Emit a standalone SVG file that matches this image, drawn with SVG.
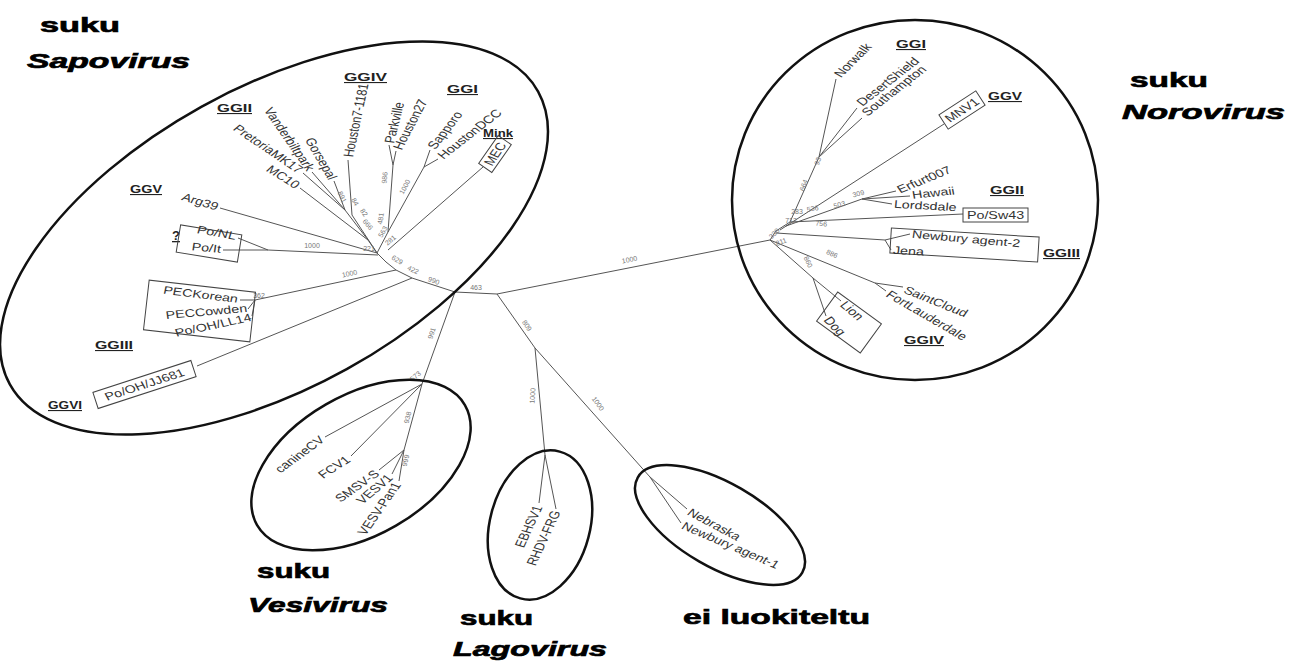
<svg xmlns="http://www.w3.org/2000/svg" width="1296" height="661" viewBox="0 0 1296 661">
<style>
.e{fill:none;stroke:#111;stroke-width:2.5}
.br path{fill:none;stroke:#555;stroke-width:1}
.bx{fill:none;stroke:#444;stroke-width:1}
.lf{font-family:"Liberation Sans",Arial,sans-serif;font-size:11px;fill:#333}
.n{font-family:"Liberation Sans",Arial,sans-serif;font-size:7px;fill:#777;text-anchor:middle}
.gg{font-family:"Liberation Sans",Arial,sans-serif;font-size:11px;font-weight:bold;fill:#222;text-decoration:underline}
.ti{font-family:"Liberation Sans",Arial,sans-serif;font-size:21px;font-weight:bold;fill:#000;stroke:#000;stroke-width:0.7}
.it{font-style:italic}
.e2{text-anchor:end}
.m{text-anchor:middle}
</style>
<rect width="1296" height="661" fill="#fff"/>

<g id="connectors" class="br">
<path d="M497,294 L455,292"/>
<path d="M455,292 L412,278 L396,270 L386,262 L377,253"/>
<path d="M412,278 L197,366"/>
<path d="M396,270 L255,300"/>
<path d="M255,300 L240,300 M255,300 L248,309 M255,300 L252,316"/>
<path d="M378,255 L268,250"/>
<path d="M268,250 L238,238 M268,250 L223,250"/>
<path d="M377,253 L220,208"/>
<path d="M377,253 L368,240 L300,188"/>
<path d="M368,240 L345,210"/>
<path d="M345,210 L303,173 M345,210 L312,172 M345,210 L334,181"/>
<path d="M377,253 L352,215 L348,160"/>
<path d="M377,253 L388,232 L393,165"/>
<path d="M393,165 L389,145 M393,165 L396,151"/>
<path d="M388,232 L424,167"/>
<path d="M424,167 L430,150 M424,167 L438,159"/>
<path d="M388,250 L483,167"/>
<path d="M455,292 L422,384"/>
<path d="M422,384 L325,437 M422,384 L351,456 M422,384 L404,450"/>
<path d="M404,450 L379,470 M404,450 L392,474 M404,450 L399,481"/>
<path d="M497,294 L535,348 L545,455"/>
<path d="M545,455 L539,503 M545,455 L556,509"/>
<path d="M535,348 L650,477"/>
<path d="M650,477 L687,509 M650,477 L681,523"/>
<path d="M497,294 L770,240"/>
<path d="M770,240 L776,231 L790,222"/>
<path d="M790,222 L819,157 L836,79 M819,157 L857,108 M819,157 L862,118"/>
<path d="M780,230 L944,124"/>
<path d="M786,226 L862,199 L896,191 M862,199 L910,196 M862,199 L892,204"/>
<path d="M790,222 L963,214"/>
<path d="M776,233 L885,240 L910,234 M885,240 L891,250"/>
<path d="M770,240 L813,278 L841,301 M813,278 L826,316"/>
<path d="M770,240 L875,283 L903,287 M875,283 L886,291"/>
</g>

<g id="bootstrap">
<text class="n" transform="translate(476,290)">463</text>
<text class="n" transform="translate(433,283) rotate(20)">990</text>
<text class="n" transform="translate(412,272) rotate(25)">422</text>
<text class="n" transform="translate(396,262) rotate(30)">629</text>
<text class="n" transform="translate(369,251)">221</text>
<text class="n" transform="translate(312,248)">1000</text>
<text class="n" transform="translate(350,276) rotate(-12)">1000</text>
<text class="n" transform="translate(259,298)">362</text>
<text class="n" transform="translate(340,198) rotate(65)">891</text>
<text class="n" transform="translate(353,203) rotate(60)">84</text>
<text class="n" transform="translate(362,214) rotate(55)">82</text>
<text class="n" transform="translate(366,226) rotate(50)">666</text>
<text class="n" transform="translate(387,178) rotate(-85)">986</text>
<text class="n" transform="translate(407,188) rotate(-62)">1000</text>
<text class="n" transform="translate(383,219) rotate(-80)">481</text>
<text class="n" transform="translate(385,233) rotate(-60)">563</text>
<text class="n" transform="translate(392,242) rotate(-40)">281</text>
<text class="n" transform="translate(434,334) rotate(-72)">991</text>
<text class="n" transform="translate(417,378) rotate(-40)">573</text>
<text class="n" transform="translate(410,418) rotate(-76)">938</text>
<text class="n" transform="translate(408,461) rotate(-76)">999</text>
<text class="n" transform="translate(525,327) rotate(55)">809</text>
<text class="n" transform="translate(535,396) rotate(-87)">1000</text>
<text class="n" transform="translate(596,405) rotate(55)">1000</text>
<text class="n" transform="translate(630,262) rotate(-11)">1000</text>
<text class="n" transform="translate(806,186) rotate(-70)">664</text>
<text class="n" transform="translate(820,162) rotate(-70)">93</text>
<text class="n" transform="translate(840,207) rotate(-15)">503</text>
<text class="n" transform="translate(859,196) rotate(-15)">309</text>
<text class="n" transform="translate(813,211) rotate(-10)">536</text>
<text class="n" transform="translate(797,214)">283</text>
<text class="n" transform="translate(791,223)">712</text>
<text class="n" transform="translate(821,226) rotate(5)">756</text>
<text class="n" transform="translate(776,235) rotate(-45)">338</text>
<text class="n" transform="translate(782,244) rotate(-20)">811</text>
<text class="n" transform="translate(831,256) rotate(25)">886</text>
<text class="n" transform="translate(806,263) rotate(65)">860</text>
</g>

<g id="sapovirus">
<ellipse class="e" cx="274" cy="238" rx="302" ry="150" transform="rotate(-29 274 238)"/>
<text class="ti" x="40" y="32" textLength="80" lengthAdjust="spacingAndGlyphs">suku</text>
<text class="ti it" x="27" y="68" textLength="163" lengthAdjust="spacingAndGlyphs">Sapovirus</text>
<text class="gg" x="217" y="112" textLength="35" lengthAdjust="spacingAndGlyphs">GGII</text>
<text class="gg" x="344" y="81" textLength="43" lengthAdjust="spacingAndGlyphs">GGIV</text>
<text class="gg" x="447" y="93" textLength="31" lengthAdjust="spacingAndGlyphs">GGI</text>
<text class="gg" x="483" y="137" textLength="30" lengthAdjust="spacingAndGlyphs">Mink</text>
<text class="gg" x="130" y="193" textLength="32" lengthAdjust="spacingAndGlyphs">GGV</text>
<text class="gg" x="172" y="240" style="font-size:13px">?</text>
<text class="gg" x="95" y="349" textLength="38" lengthAdjust="spacingAndGlyphs">GGIII</text>
<text class="gg" x="48" y="409" textLength="34" lengthAdjust="spacingAndGlyphs">GGVI</text>
<text class="lf e2" transform="translate(218,207) scale(1.3,1) rotate(21.7)" dy=".35em">Arg39</text>
<text class="lf e2" transform="translate(298,186) scale(1.3,1) rotate(39)" dy=".35em">MC10</text>
<text class="lf e2" transform="translate(301,171) scale(1.3,1) rotate(41.4)" dy=".35em">PretoriaMK17</text>
<text class="lf e2" transform="translate(311,170) scale(1.3,1) rotate(61.7)" dy=".35em">Vanderbiltpark</text>
<text class="lf e2" transform="translate(333,179) scale(1.3,1) rotate(66)" dy=".35em">Gorsepal</text>
<text class="lf" transform="translate(348,157) scale(1.3,1) rotate(-80.7)" dy=".35em">Houston7-1181</text>
<text class="lf" transform="translate(389,143) scale(1.3,1) rotate(-79)" dy=".35em">Parkville</text>
<text class="lf" transform="translate(397,149) scale(1.3,1) rotate(-67.8)" dy=".35em">Houston27</text>
<text class="lf" transform="translate(431,148) scale(1.3,1) rotate(-59)" dy=".35em">Sapporo</text>
<text class="lf" transform="translate(440,157) scale(1.3,1) rotate(-45.4)" dy=".35em">HoustonDCC</text>
<rect class="bx" x="-17" y="-8" width="34" height="16" transform="translate(495,154) rotate(-55)"/>
<text class="lf m" transform="translate(495,154) scale(1.3,1) rotate(-61.7)" dy=".35em">MEC</text>
<rect class="bx" x="-31" y="-13.75" width="62" height="27.5" transform="translate(209,243.5) rotate(9.3)"/>
<text class="lf e2" transform="translate(236,236) scale(1.3,1) rotate(12.9)" dy=".35em">Po/NL</text>
<text class="lf e2" transform="translate(221,249) scale(1.3,1) rotate(6.5)" dy=".35em">Po/It</text>
<rect class="bx" x="-53.5" y="-25" width="107" height="50" transform="translate(199.5,311) rotate(6.5)"/>
<text class="lf e2" transform="translate(238,299) scale(1.3,1) rotate(9.1)" dy=".35em">PECKorean</text>
<text class="lf e2" transform="translate(247,308) scale(1.3,1) rotate(-6.5)" dy=".35em">PECCowden</text>
<text class="lf e2" transform="translate(251,317) scale(1.3,1) rotate(-15.4)" dy=".35em">Po/OH/LL14</text>
<rect class="bx" x="-51.5" y="-8.5" width="103" height="17" transform="translate(144.5,384.5) rotate(-18)"/>
<text class="lf m" transform="translate(144.5,384.5) scale(1.3,1) rotate(-22.9)" dy=".35em">Po/OH/JJ681</text>
</g>

<g id="vesivirus">
<ellipse class="e" cx="361" cy="465" rx="120" ry="70" transform="rotate(-30 361 465)"/>
<text class="ti" x="257" y="578" textLength="73" lengthAdjust="spacingAndGlyphs">suku</text>
<text class="ti it" x="248" y="612" textLength="140" lengthAdjust="spacingAndGlyphs">Vesivirus</text>
<text class="lf e2" transform="translate(322,438) scale(1.3,1) rotate(-43.4)" dy=".35em">canineCV</text>
<text class="lf e2" transform="translate(348,458) scale(1.3,1) rotate(-40.2)" dy=".35em">FCV1</text>
<text class="lf e2" transform="translate(377,472) scale(1.3,1) rotate(-42.3)" dy=".35em">SMSV-S</text>
<text class="lf e2" transform="translate(390,476) scale(1.3,1) rotate(-47.5)" dy=".35em">VESV1</text>
<text class="lf e2" transform="translate(397,483) scale(1.3,1) rotate(-61.7)" dy=".35em">VESV-Pan1</text>
</g>

<g id="lagovirus">
<ellipse class="e" cx="540" cy="525" rx="50" ry="76" transform="rotate(15 540 525)"/>
<text class="ti" x="460" y="625" textLength="73" lengthAdjust="spacingAndGlyphs">suku</text>
<text class="ti it" x="453" y="656" textLength="154" lengthAdjust="spacingAndGlyphs">Lagovirus</text>
<text class="lf e2" transform="translate(538,506) scale(1.3,1) rotate(-70.3)" dy=".35em">EBHSV1</text>
<text class="lf e2" transform="translate(556,511) scale(1.3,1) rotate(-70.3)" dy=".35em">RHDV-FRG</text>
</g>

<g id="unclassified">
<ellipse class="e" cx="720" cy="525" rx="95" ry="42" transform="rotate(30 720 525)"/>
<text class="ti" x="683" y="624" textLength="187" lengthAdjust="spacingAndGlyphs">ei luokiteltu</text>
<text class="lf" transform="translate(689,511) scale(1.3,1) rotate(34.6)" dy=".35em">Nebraska</text>
<text class="lf" transform="translate(683,525) scale(1.3,1) rotate(28.9)" dy=".35em">Newbury agent-1</text>
</g>

<g id="norovirus">
<ellipse class="e" cx="915" cy="200" rx="183" ry="180"/>
<text class="ti" x="1130" y="87" textLength="78" lengthAdjust="spacingAndGlyphs">suku</text>
<text class="ti it" x="1122" y="119" textLength="163" lengthAdjust="spacingAndGlyphs">Norovirus</text>
<text class="gg" x="896" y="48" textLength="30" lengthAdjust="spacingAndGlyphs">GGI</text>
<text class="gg" x="988" y="100" textLength="34" lengthAdjust="spacingAndGlyphs">GGV</text>
<text class="gg" x="990" y="194" textLength="34" lengthAdjust="spacingAndGlyphs">GGII</text>
<text class="gg" x="1043" y="257" textLength="37" lengthAdjust="spacingAndGlyphs">GGIII</text>
<text class="gg" x="904" y="344" textLength="40" lengthAdjust="spacingAndGlyphs">GGIV</text>
<text class="lf" transform="translate(837,76) scale(1.3,1) rotate(-52.4)" dy=".35em">Norwalk</text>
<text class="lf" transform="translate(859,104) scale(1.3,1) rotate(-45.4)" dy=".35em">DesertShield</text>
<text class="lf" transform="translate(864,114) scale(1.3,1) rotate(-45.4)" dy=".35em">Southampton</text>
<rect class="bx" x="-22" y="-8.5" width="44" height="17" transform="translate(962,110) rotate(-33)"/>
<text class="lf m" transform="translate(962,110) scale(1.3,1) rotate(-40.2)" dy=".35em">MNV1</text>
<text class="lf" transform="translate(898,190) scale(1.3,1) rotate(-27.7)" dy=".35em">Erfurt007</text>
<text class="lf" transform="translate(912,195) scale(1.3,1) rotate(-7.8)" dy=".35em">Hawaii</text>
<text class="lf" transform="translate(894,204) scale(1.3,1) rotate(3.9)" dy=".35em">Lordsdale</text>
<rect class="bx" x="963" y="208" width="65" height="14"/>
<text class="lf m" transform="translate(995.5,215) scale(1.3,1)" dy=".35em">Po/Sw43</text>
<rect class="bx" x="-74" y="-12.5" width="148" height="25" transform="translate(964.5,245) rotate(3.5)"/>
<text class="lf" transform="translate(912,234) scale(1.3,1) rotate(6.5)" dy=".35em">Newbury agent-2</text>
<text class="lf" transform="translate(893,250) scale(1.3,1) rotate(3.9)" dy=".35em">Jena</text>
<text class="lf" transform="translate(905,289) scale(1.3,1) rotate(27.7)" dy=".35em">SaintCloud</text>
<text class="lf" transform="translate(888,293) scale(1.3,1) rotate(36.9)" dy=".35em">FortLauderdale</text>
<rect class="bx" x="-27" y="-18" width="54" height="36" transform="translate(849,322.5) rotate(36)"/>
<text class="lf" transform="translate(843,303) scale(1.3,1) rotate(47.5)" dy=".35em">Lion</text>
<text class="lf" transform="translate(827,318) scale(1.3,1) rotate(52.4)" dy=".35em">Dog</text>
</g>
</svg>
